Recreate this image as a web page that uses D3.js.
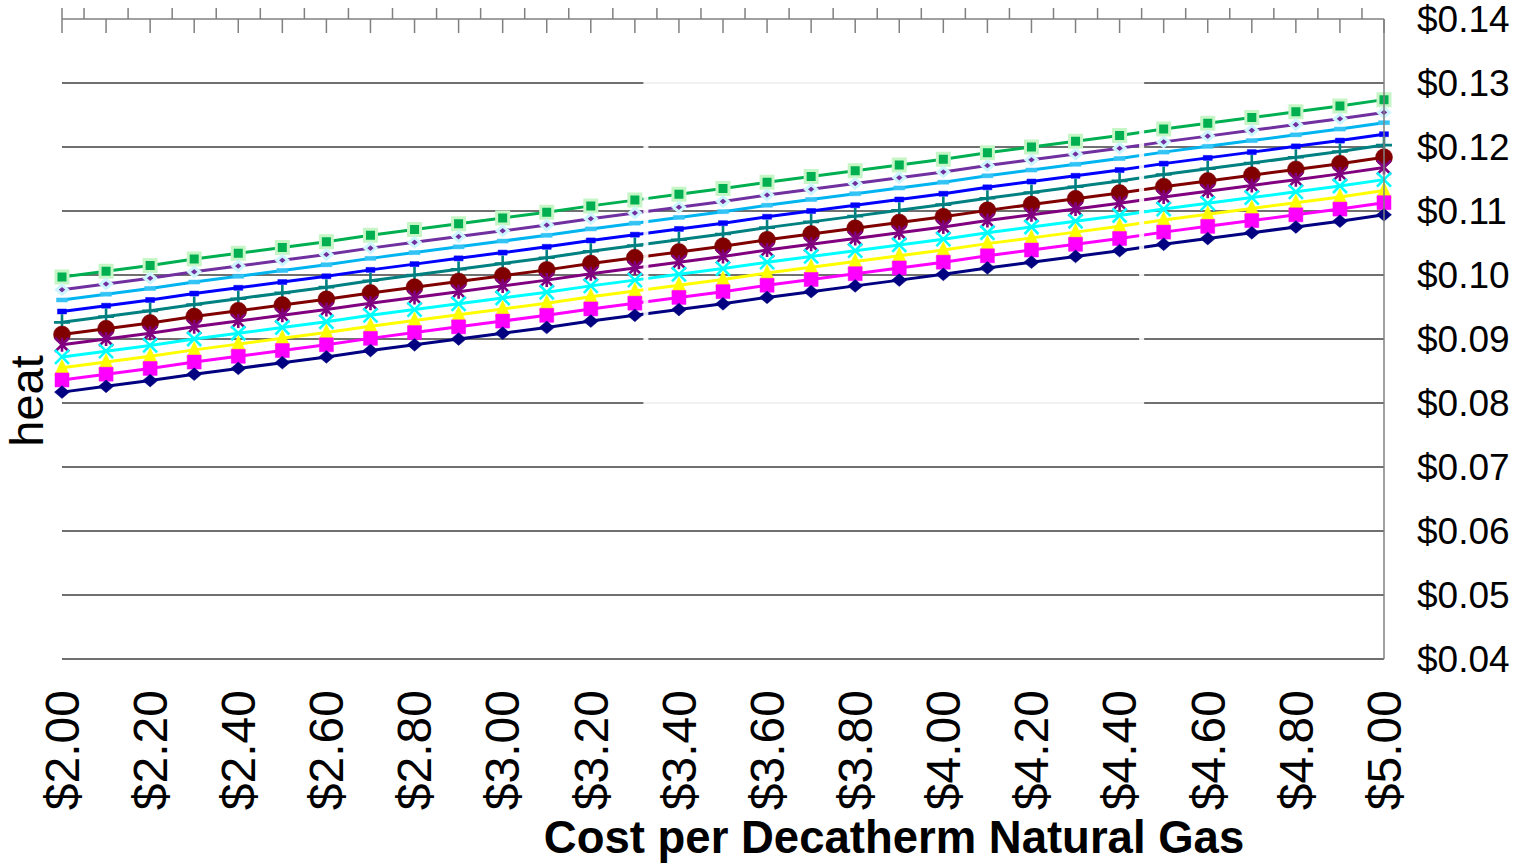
<!DOCTYPE html>
<html>
<head>
<meta charset="utf-8">
<script src="https://cdn.jsdelivr.net/npm/d3@7"></script>
<style>
html,body{margin:0;padding:0;background:#fff;}
svg{display:block;}
text{font-family:"Liberation Sans",Arial,sans-serif;fill:#000;}
</style>
</head>
<body>
<svg id="chart" width="1518" height="865"></svg>
<script>
// ---------- data ----------
const prices = [2.0,2.1,2.2,2.3,2.4,2.5,2.6,2.7,2.8,2.9,3.0,3.1,3.2,3.3,3.4,3.5,3.6,3.7,3.8,3.9,4.0,4.1,4.2,4.3,4.4,4.5,4.6,4.7,4.8,4.9,5.0];

const xTickValues = [2.0,2.2,2.4,2.6,2.8,3.0,3.2,3.4,3.6,3.8,4.0,4.2,4.4,4.6,4.8,5.0];
const xTickLabels = ["$2.00","$2.20","$2.40","$2.60","$2.80","$3.00","$3.20","$3.40","$3.60","$3.80","$4.00","$4.20","$4.40","$4.60","$4.80","$5.00"];
const yTickValues = [0.04,0.05,0.06,0.07,0.08,0.09,0.10,0.11,0.12,0.13,0.14];
const yTickLabels = ["$0.04","$0.05","$0.06","$0.07","$0.08","$0.09","$0.10","$0.11","$0.12","$0.13","$0.14"];

const xTitle = "Cost per Decatherm Natural Gas";
const yTitle = "heat";

const s1  = [.0997,.1006,.1015,.1025,.1034,.1043,.1052,.1062,.1071,.1080,.1089,.1098,.1108,.1117,.1126,.1135,.1145,.1154,.1163,.1172,.1181,.1191,.1200,.1209,.1218,.1228,.1237,.1246,.1255,.1264,.1274];
const s2  = [.0977,.0986,.0995,.1005,.1014,.1023,.1032,.1042,.1051,.1060,.1069,.1078,.1088,.1097,.1106,.1115,.1125,.1134,.1143,.1152,.1161,.1171,.1180,.1189,.1198,.1208,.1217,.1226,.1235,.1244,.1254];
const s3  = [.0961,.0970,.0979,.0989,.0998,.1007,.1016,.1026,.1035,.1044,.1053,.1062,.1072,.1081,.1090,.1099,.1109,.1118,.1127,.1136,.1145,.1155,.1164,.1173,.1182,.1192,.1201,.1210,.1219,.1228,.1238];
const s4  = [.0943,.0952,.0961,.0971,.0980,.0989,.0998,.1008,.1017,.1026,.1035,.1044,.1054,.1063,.1072,.1081,.1091,.1100,.1109,.1118,.1127,.1137,.1146,.1155,.1164,.1174,.1183,.1192,.1201,.1210,.1220];
const s5  = [.0926,.0935,.0944,.0954,.0963,.0972,.0981,.0991,.1000,.1009,.1018,.1027,.1037,.1046,.1055,.1064,.1074,.1083,.1092,.1101,.1110,.1120,.1129,.1138,.1147,.1157,.1166,.1175,.1184,.1193,.1203];
const s6  = [.0907,.0916,.0925,.0935,.0944,.0953,.0962,.0972,.0981,.0990,.0999,.1008,.1018,.1027,.1036,.1045,.1055,.1064,.1073,.1082,.1091,.1101,.1110,.1119,.1128,.1138,.1147,.1156,.1165,.1174,.1184];
const s7  = [.0891,.0900,.0909,.0919,.0928,.0937,.0946,.0956,.0965,.0974,.0983,.0992,.1002,.1011,.1020,.1029,.1039,.1048,.1057,.1066,.1075,.1085,.1094,.1103,.1112,.1122,.1131,.1140,.1149,.1158,.1168];
const s8  = [.0872,.0881,.0890,.0900,.0909,.0918,.0927,.0937,.0946,.0955,.0964,.0973,.0983,.0992,.1001,.1010,.1020,.1029,.1038,.1047,.1056,.1066,.1075,.1084,.1093,.1103,.1112,.1121,.1130,.1139,.1149];
const s9  = [.0855,.0864,.0873,.0883,.0892,.0901,.0910,.0920,.0929,.0938,.0947,.0956,.0966,.0975,.0984,.0993,.1003,.1012,.1021,.1030,.1039,.1049,.1058,.1067,.1076,.1086,.1095,.1104,.1113,.1122,.1132];
const s10 = [.0836,.0845,.0854,.0864,.0873,.0882,.0891,.0901,.0910,.0919,.0928,.0937,.0947,.0956,.0965,.0974,.0984,.0993,.1002,.1011,.1020,.1030,.1039,.1048,.1057,.1067,.1076,.1085,.1094,.1103,.1113];
const s11 = [.0817,.0826,.0835,.0845,.0854,.0863,.0872,.0882,.0891,.0900,.0909,.0918,.0928,.0937,.0946,.0955,.0965,.0974,.0983,.0992,.1001,.1011,.1020,.1029,.1038,.1048,.1057,.1066,.1075,.1084,.1094];

const seriesValues = [s1,s2,s3,s4,s5,s6,s7,s8,s9,s10,s11];

// ---------- styles ----------
const styles = [
  {color:"#00B050", marker:"square",   size:12, fill:"#00B050", halo:"#C6F5C6"},
  {color:"#7030A0", marker:"diamond",  size:11, fill:"#7030A0", halo:"#CCF5FF"},
  {color:"#00B4F0", marker:"dash",     size:11, fill:"#33C4F5", halo:null},
  {color:"#0000FF", marker:"dashS",    size:9,  fill:"#0000FF", halo:null},
  {color:"#008080", marker:"plus",     size:16, fill:"none",    halo:null},
  {color:"#800000", marker:"circle",   size:17, fill:"#800000", halo:null},
  {color:"#800080", marker:"asterisk", size:14, fill:"none",    halo:null},
  {color:"#00FFFF", marker:"x",        size:14, fill:"none",    halo:null},
  {color:"#FFFF00", marker:"triangle", size:15, fill:"#FFFF00", halo:null},
  {color:"#FF00FF", marker:"square",   size:14, fill:"#FF00FF", halo:null},
  {color:"#000080", marker:"diamond",  size:15, fill:"#000080", halo:null}
];

// ---------- layout ----------
const svg = d3.select("#chart");
const x = d3.scaleLinear().domain([2,5]).range([62,1384]);
const y = d3.scaleLinear().domain([0.04,0.14]).range([659,19]);

// gridlines
svg.append("g").selectAll("line")
  .data(yTickValues.filter(v => v < 0.14 - 1e-9))
  .join("line")
  .attr("x1", x(2)).attr("x2", x(5))
  .attr("y1", d => y(d)).attr("y2", d => y(d))
  .attr("stroke", "#404040").attr("stroke-width", 1.5);

// series
function markerPath(type, s) {
  const h = s/2;
  switch (type) {
    case "square": return `M${-h},${-h}H${h}V${h}H${-h}Z`;
    case "diamond": return `M0,${-h*0.85}L${h},0L0,${h*0.85}L${-h},0Z`;
    case "triangle": return `M0,${-h-1}L${h},${h}L${-h},${h}Z`;
    case "circle": return d3.symbol(d3.symbolCircle, Math.PI*h*h)();
    case "plus": return `M0,${-h}V${h}M${-h},0H${h}`;
    case "x": return `M${-h},${-h}L${h},${h}M${h},${-h}L${-h},${h}`;
    case "asterisk": return `M${-h},${-h}L${h},${h}M${h},${-h}L${-h},${h}M0,${-h}V${h}`;
    case "dash": return `M${-h},-2H${h}V2H${-h}Z`;
    case "dashS": return `M${-h},-2.5H${h}V2.5H${-h}Z`;
  }
}

const line = d3.line().x((d,i) => x(prices[i])).y(d => y(d));

seriesValues.forEach((vals, k) => {
  const st = styles[k];
  const g = svg.append("g");
  g.append("path").datum(vals)
    .attr("d", line)
    .attr("fill", "none")
    .attr("stroke", st.color)
    .attr("stroke-width", 3)
    .attr("stroke-linejoin", "round");
  const open = (st.fill === "none");
  g.selectAll("path.m").data(vals).join("path")
    .attr("class", "m")
    .attr("transform", (d,i) => `translate(${x(prices[i])},${y(d)})`)
    .attr("d", markerPath(st.marker, st.size))
    .attr("fill", open ? "none" : st.fill)
    .attr("stroke", open ? st.color : (st.halo || st.fill))
    .attr("stroke-width", open ? 2.6 : (st.halo ? 3 : 0.5));
});

// white rendering seam seen in the original image
const seam = {x0: 3.325, x1: 4.45, y0: 0.08, y1: 0.13};
svg.append("rect")
  .attr("x", x(seam.x0)).attr("y", y(seam.y1))
  .attr("width", x(seam.x1) - x(seam.x0))
  .attr("height", y(seam.y0) - y(seam.y1))
  .attr("fill", "none")
  .attr("stroke", "#fff")
  .attr("stroke-opacity", 0.9)
  .attr("stroke-width", 5);

// top axis with alternating ticks
const topTicks = d3.range(0, 61).map(i => 2 + i*0.05);
const axisG = svg.append("g");
axisG.append("line")
  .attr("x1", x(2)).attr("x2", x(5)).attr("y1", y(0.14)).attr("y2", y(0.14))
  .attr("stroke", "#808080").attr("stroke-width", 1.5);
axisG.selectAll("line.t").data(topTicks).join("line")
  .attr("class","t")
  .attr("x1", d => x(d)).attr("x2", d => x(d))
  .attr("y1", (d,i) => (i % 2 === 1 || i === 0) ? y(0.14) - 11 : y(0.14))
  .attr("y2", (d,i) => (i % 2 === 1) ? y(0.14) : y(0.14) + 14)
  .attr("stroke", "#808080").attr("stroke-width", 1.5);

// right value axis line
svg.append("line")
  .attr("x1", x(5)).attr("x2", x(5)).attr("y1", y(0.14)).attr("y2", y(0.04))
  .attr("stroke", "#808080").attr("stroke-width", 1.5);

// y tick labels (right)
svg.append("g").selectAll("text").data(yTickValues).join("text")
  .attr("x", 1417)
  .attr("y", d => y(d))
  .attr("dy", "0.35em")
  .attr("font-size", 37)
  .text((d,i) => yTickLabels[i]);

// x tick labels (rotated)
svg.append("g").selectAll("text").data(xTickValues).join("text")
  .attr("transform", d => `translate(${x(d)},690) rotate(-90)`)
  .attr("text-anchor", "end")
  .attr("dy", "0.35em")
  .attr("font-size", 48)
  .text((d,i) => xTickLabels[i]);

// axis titles
svg.append("text")
  .attr("x", 894).attr("y", 853)
  .attr("text-anchor", "middle")
  .attr("font-size", 45.5)
  .attr("font-weight", "bold")
  .text(xTitle);

svg.append("text")
  .attr("transform", "translate(43,401) rotate(-90)")
  .attr("text-anchor", "middle")
  .attr("font-size", 47)
  .text(yTitle);
</script>
</body>
</html>
